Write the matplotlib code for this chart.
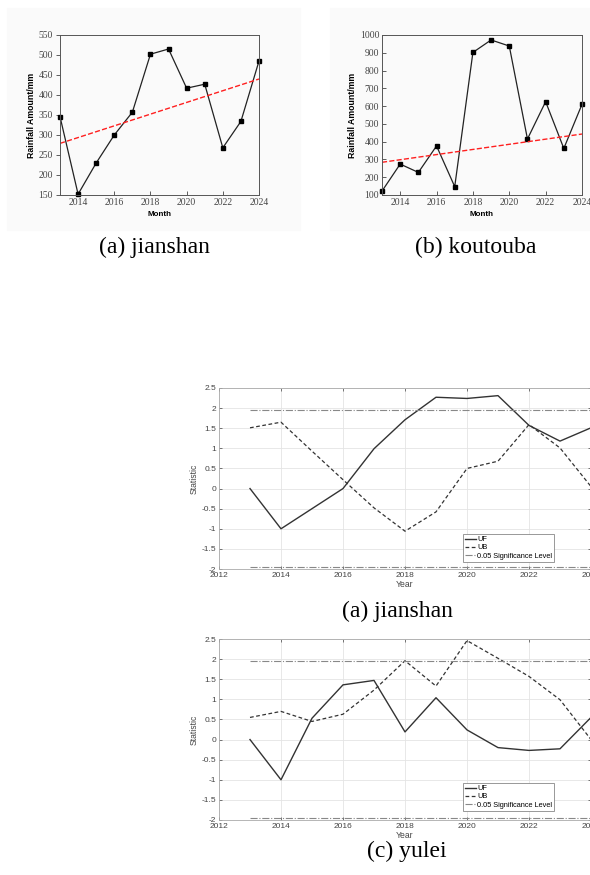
import numpy as np
import matplotlib.pyplot as plt
from matplotlib.patches import Rectangle

plt.rcParams['axes.unicode_minus'] = False

# rainfall series
years = [2013, 2014, 2015, 2016, 2017, 2018, 2019, 2020, 2021, 2022, 2023, 2024]
rain_jianshan = [346, 152, 230, 300, 357, 502, 515, 417, 427, 268, 334, 485]
rain_koutouba = [122, 274, 227, 376, 147, 902, 972, 938, 415, 625, 362, 610]
trend_jianshan = [279, 440]
trend_koutouba = [284, 443]

# Mann-Kendall statistics
uf_jianshan = [0, -1.0, -0.5, 0.0, 0.99, 1.71, 2.27, 2.24, 2.31, 1.57, 1.18, 1.51]
ub_jianshan = [1.51, 1.65, 0.93, 0.22, -0.48, -1.06, -0.58, 0.5, 0.68, 1.59, 1.01, 0.05]
uf_yulei = [0, -1.0, 0.53, 1.36, 1.47, 0.19, 1.04, 0.24, -0.2, -0.27, -0.23, 0.55]
ub_yulei = [0.55, 0.70, 0.45, 0.63, 1.23, 1.96, 1.33, 2.46, 2.02, 1.57, 0.99, 0.0]
sig_level = 1.96

W, H = 590, 875
fig = plt.figure(figsize=(W / 100, H / 100), dpi=100)


def box(x0, x1, y0, y1):
    # pixel box -> figure fraction [left, bottom, width, height]
    return [x0 / W, 1 - y1 / H, (x1 - x0) / W, (y1 - y0) / H]


# pale panels behind the rainfall plots
for x0, x1 in [(7, 300), (330, 590)]:
    fig.patches.append(Rectangle((x0 / W, 1 - 230 / H), (x1 - x0) / W, 222 / H,
                                 transform=fig.transFigure, color='#fafafa', zorder=-5))


def rain_plot(pos, vals, trend, ylim, yticks, ydir):
    ax = fig.add_axes(pos)
    ax.set_zorder(2)
    ax.patch.set_visible(False)
    ax.plot(years, vals, '-', color='#222222', lw=0.9, marker='s', markersize=2.8,
            markerfacecolor='k', markeredgecolor='k', clip_on=False)
    ax.plot([years[0], years[-1]], trend, '--', color='#ff2020', lw=1.0)
    ax.set_xlim(2013, 2024)
    ax.set_ylim(*ylim)
    ax.set_xticks([2014, 2016, 2018, 2020, 2022, 2024])
    ax.set_yticks(yticks)
    ax.tick_params(length=3, width=0.6, labelsize=6.9, colors='#444444', pad=2)
    ax.tick_params(axis='x', direction='in')
    ax.tick_params(axis='y', direction=ydir)
    for lab in ax.get_xticklabels() + ax.get_yticklabels():
        lab.set_family('Liberation Serif')
    for s in ax.spines.values():
        s.set_linewidth(0.7)
        s.set_color('#555555')
    ax.set_xlabel('Month', fontsize=5.8, fontweight='bold', family='Liberation Sans',
                  labelpad=3)
    ax.set_ylabel('Rainfall Amount/mm', fontsize=6.3, fontweight='bold',
                  family='Liberation Sans', labelpad=2)
    return ax


rain_plot(box(60, 259, 35, 195), rain_jianshan, trend_jianshan, (150, 550),
          np.arange(150, 551, 50), 'out')
rain_plot(box(382, 582, 35, 195), rain_koutouba, trend_koutouba, (100, 1000),
          np.arange(100, 1001, 100), 'in')


def mk_plot(pos, uf, ub, leg_anchor):
    ax = fig.add_axes(pos)
    ax.grid(True, color='#e4e4e4', lw=0.6)
    ax.plot(years, uf, '-', color='#333333', lw=1.0, label='UF')
    ax.plot(years, ub, '--', color='#333333', lw=0.9, label='UB', dashes=(3, 2))
    ax.plot([years[0], years[-1]], [sig_level, sig_level], '-.', color='#888888', lw=0.8,
            label='0.05 Significance Level')
    ax.plot([years[0], years[-1]], [-sig_level, -sig_level], '-.', color='#888888', lw=0.8)
    ax.set_xlim(2012, 2024)
    ax.set_ylim(-2, 2.5)
    ax.set_xticks(range(2012, 2025, 2))
    yt = np.arange(-2, 2.51, 0.5)
    ax.set_yticks(yt)
    ax.set_yticklabels(['%g' % v for v in yt])
    ax.tick_params(direction='in', length=2, width=0.5, labelsize=6, colors='#444444',
                   top=True, right=True, pad=2)
    for lab in ax.get_xticklabels() + ax.get_yticklabels():
        lab.set_family('Liberation Sans')
    for s in ax.spines.values():
        s.set_linewidth(0.6)
        s.set_color('#aaaaaa')
    ax.set_xlabel('Year', fontsize=6.2, color='#444444', family='Liberation Sans', labelpad=1)
    ax.set_ylabel('Statistic', fontsize=6.2, color='#444444', family='Liberation Sans',
                  labelpad=2)
    leg = ax.legend(loc='lower left', bbox_to_anchor=leg_anchor,
                    prop={'family': 'Liberation Sans', 'size': 5.3}, fancybox=False,
                    edgecolor='#888888', framealpha=1, handlelength=1.5,
                    handletextpad=0.1, labelspacing=0.15, borderpad=0.3,
                    borderaxespad=0)
    leg.get_frame().set_linewidth(0.6)
    return ax


mk_plot(box(219, 591, 388, 569), uf_jianshan, ub_jianshan, (0.656, 0.039))
mk_plot(box(219, 591, 639, 820), uf_yulei, ub_yulei, (0.656, 0.05))

# captions
caps = [('(a) jianshan', 154, 247), ('(b) koutouba', 476, 247),
        ('(a) jianshan', 397, 611), ('(c) yulei', 407, 851)]
for txt, x, y in caps:
    fig.text(x / W, 1 - y / H, txt, fontsize=17, family='Liberation Serif',
             ha='center', va='center')

fig.savefig('out.png', dpi=100)
